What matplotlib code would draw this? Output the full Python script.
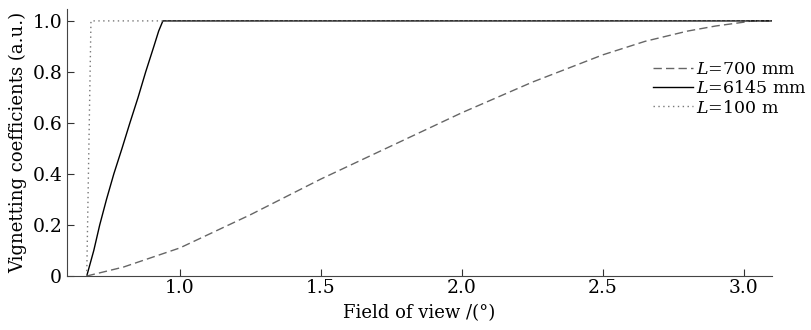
import numpy as np
import matplotlib.pyplot as plt

plt.rcParams['font.family'] = 'DejaVu Serif'
plt.rcParams['mathtext.fontset'] = 'dejavuserif'

# values
fov_700 = [0.67, 0.8, 1.0, 1.25, 1.5, 1.75, 2.0, 2.25, 2.5, 2.65, 2.8, 2.9, 3.0, 3.03, 3.1]
vig_700 = [0.0, 0.035, 0.11, 0.24, 0.38, 0.51, 0.64, 0.76, 0.867, 0.92, 0.96, 0.98, 0.995, 1.0, 1.0]

fov_6145 = [0.67, 0.68, 0.695, 0.716, 0.74, 0.766, 0.795, 0.823, 0.852, 0.879, 0.908, 0.925, 0.94, 3.1]
vig_6145 = [0.0, 0.04, 0.1, 0.2, 0.3, 0.4, 0.5, 0.6, 0.7, 0.8, 0.9, 0.96, 1.0, 1.0]

fov_100 = [0.67, 0.685, 3.1]
vig_100 = [0.0, 1.0, 1.0]

fig = plt.figure(figsize=(8.11, 3.30), dpi=100)
ax = fig.add_axes([0.0826, 0.1636, 0.8694, 0.8094])

ax.plot(fov_700, vig_700, color='#666666', lw=1.0, ls=(0, (6, 3)), label='$L$=700 mm')
ax.plot(fov_6145, vig_6145, color='black', lw=1.0, label='$L$=6145 mm')
ax.plot(fov_100, vig_100, color='#777777', lw=1.0, ls=(0, (1, 2.5)), label='$L$=100 m')

ax.set_xlim(0.6, 3.1)
ax.set_ylim(0, 1.047)
ax.set_xticks([1.0, 1.5, 2.0, 2.5, 3.0])
ax.set_yticks([0, 0.2, 0.4, 0.6, 0.8, 1.0])
ax.set_yticklabels(['0', '0.2', '0.4', '0.6', '0.8', '1.0'])
ax.tick_params(direction='in', length=5, labelsize=13.5, colors='#333333', labelcolor='black')
ax.tick_params(axis='x', pad=2)
for s in ['top', 'right']:
    ax.spines[s].set_visible(False)
for s in ['left', 'bottom']:
    ax.spines[s].set_color('#444444')

ax.set_xlabel('Field of view /(°)', fontsize=13, labelpad=5)
ax.set_ylabel('Vignetting coefficients (a.u.)', fontsize=13, labelpad=4)

ax.legend(loc='upper right', bbox_to_anchor=(1.003, 0.835), bbox_transform=fig.transFigure,
          frameon=False, fontsize=12.5, handlelength=2.3, handletextpad=0.15,
          labelspacing=0.12, borderaxespad=0)

fig.savefig('out.png', dpi=100)
